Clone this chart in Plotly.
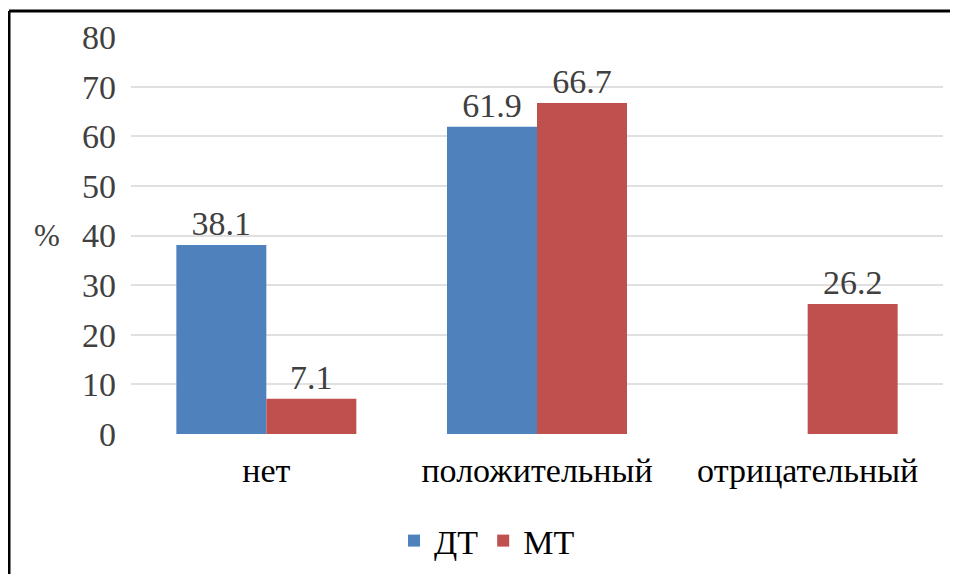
import plotly.graph_objects as go

categories = ["нет", "положительный", "отрицательный"]
series_names = ["ДТ", "МТ"]
dt_values = [38.1, 61.9, None]
mt_values = [7.1, 66.7, 26.2]
y_ticks = [0, 10, 20, 30, 40, 50, 60, 70, 80]

FONT = "Liberation Serif"
BLUE = "#4F81BD"
RED = "#C0504D"

# page body has an 8px margin; the figure is sized to fit inside the window
OFF = 8
W, H = 958 - 2 * OFF, 582 - 2 * OFF
L, T = 131 - OFF, 37 - OFF
R = W - (943 - OFF)
B = H - (434 - OFF)
pw, ph = W - L - R, H - T - B

def px_x(x):
    return (x - OFF - L) / pw

def px_y(y):
    return 1 - (y - OFF - T) / ph

fig = go.Figure()
for name, vals, col in [(series_names[0], dt_values, BLUE), (series_names[1], mt_values, RED)]:
    fig.add_trace(go.Bar(
        x=categories, y=vals, name=name,
        marker=dict(color=col, line=dict(width=0)),
        text=[("" if v is None else f"{v:.1f}") for v in vals],
        textposition="outside",
        textfont=dict(family=FONT, size=34, color="#404040"),
        cliponaxis=False,
        constraintext="none",
    ))

fig.update_layout(
    width=W, height=H,
    margin=dict(l=L, r=R, t=T, b=B, autoexpand=False),
    paper_bgcolor="white", plot_bgcolor="white",
    barmode="group", bargap=0.335, bargroupgap=0,
    font=dict(family=FONT, color="#000000"),
    showlegend=True,
    legend=dict(
        orientation="h", x=px_x(394), xanchor="left",
        y=px_y(541), yanchor="middle",
        font=dict(family=FONT, size=34, color="#000000"),
        itemwidth=30, traceorder="normal",
    ),
    xaxis=dict(
        showgrid=False, showline=False, zeroline=False,
        tickfont=dict(family=FONT, size=34, color="#000000"),
        ticks="", ticklabelstandoff=13,
    ),
    yaxis=dict(
        range=[0, 80], tickvals=y_ticks, ticktext=[str(v) for v in y_ticks],
        showgrid=True, gridcolor="#E0E0E0", gridwidth=2,
        showline=False, zeroline=False,
        tickfont=dict(family=FONT, size=34, color="#404040"),
        ticks="", ticklabelstandoff=14,
    ),
    annotations=[dict(
        text="%", xref="paper", yref="y", x=px_x(47), y=40,
        xanchor="center", yanchor="middle", showarrow=False,
        font=dict(family=FONT, size=31, color="#404040"),
    )],
    shapes=[
        dict(type="line", xref="paper", yref="paper",
             x0=px_x(9), x1=(W - L) / pw, y0=px_y(11), y1=px_y(11),
             line=dict(color="black", width=3)),
        dict(type="line", xref="paper", yref="paper",
             x0=px_x(9), x1=px_x(9), y0=-B / ph, y1=px_y(11),
             line=dict(color="black", width=3)),
    ],
)

fig.write_html("out.html", config={"displayModeBar": False})
